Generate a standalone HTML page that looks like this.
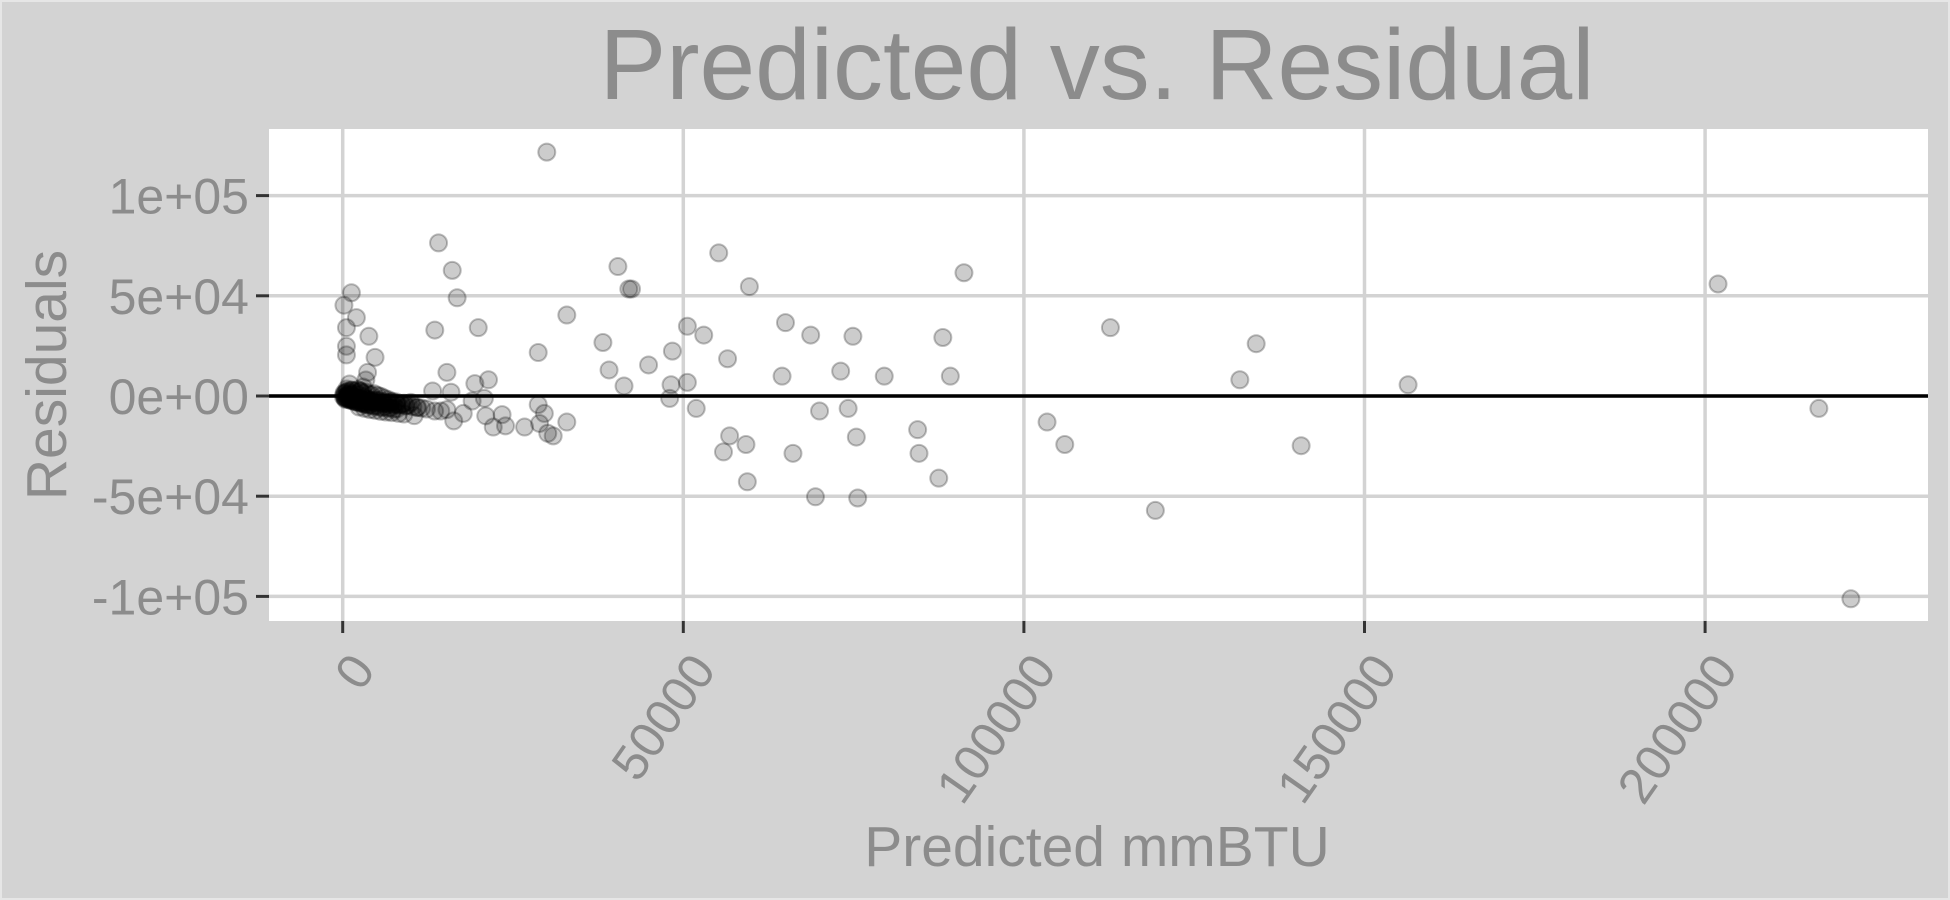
<!DOCTYPE html>
<html><head><meta charset="utf-8"><style>
html,body{margin:0;padding:0;background:#d3d3d3;}
svg{display:block;font-family:"Liberation Sans",sans-serif;}
</style></head><body>
<svg id="chart" width="1950" height="900" viewBox="0 0 1950 900" xmlns="http://www.w3.org/2000/svg">
<rect x="0" y="0" width="1950" height="900" fill="#d3d3d3"/>
<rect x="1" y="1" width="1948" height="898" fill="none" stroke="#e6e6e6" stroke-width="2"/>
<text x="1097" y="99" text-anchor="middle" font-size="100" fill="#8c8c8c">Predicted vs. Residual</text>
<rect x="269" y="129" width="1659" height="492" fill="#ffffff"/>
<g id="grid"></g>
<g id="zero"></g>
<g id="points"></g>
<g id="axes"></g>
<text transform="translate(66,375) rotate(-90)" text-anchor="middle" font-size="57" fill="#8c8c8c">Residuals</text>
<text x="1097" y="866" text-anchor="middle" font-size="57" fill="#8c8c8c">Predicted mmBTU</text>
</svg>
<script>
const xTicks=[0,50000,100000,150000,200000];
const xTickLabels=["0","50000","100000","150000","200000"];
const yTicks=[100000,50000,0,-50000,-100000];
const yTickLabels=["1e+05","5e+04","0e+00","-5e+04","-1e+05"];
const predicted=[29960,14070,16080,16800,13520,19900,1280,180,2010,550,3840,550,550,4750,28700,32900,40400,42000,42400,38200,39100,41300,44900,48400,48200,48000,50600,50600,53000,55200,56500,51900,59700,65000,64500,68700,74900,73100,79500,88100,89200,91200,56800,55900,59200,59400,66100,70000,74200,75400,75600,69400,84400,84600,87500,103400,106000,112700,119300,131700,134100,140700,156400,201900,216700,221400,
28700,29600,30100,30900,32900,28900,26700,23900,23400,22100,21000,20800,21400,19400,19000,17700,16300,15300,15900,15300,13200,14400,13500,3650,3400,3000,2600,
200,300,400,500,600,700,800,900,1000,1100,1200,1300,1500,1600,1700,1900,2000,2200,2300,2500,2600,2800,3000,3100,3300,3500,3700,3900,4100,4300,4600,4800,5000,5300,5600,5900,6200,6500,6800,7100,7500,7900,8300,8700,9200,9700,10300,10900,11600,12300,400,800,1400,2100,2900,3600,4400,5200,6100,7000,8000,9000,10000,11000,600,1000,1800,
100,300,500,700,900,1100,1300,1500,1700,1900,2100,2300,2500,2700,2900,3100,3300,3500,3800,4100,4400,4700,5000,5400,5800,6200,6600,7000,7500,8000,200,600,1000,1400,1800,2200,2600,3000,3400,3800,4200,4600,5100,5600,6100,6700,7300,7900,8600,9400,2400,3200,4000,4800,5600,6400,7200,8200,9000,10500];
const residuals=[121700,76400,62700,49000,32900,34100,51500,45300,39100,34100,29800,24800,20500,19300,21700,40400,64600,53400,53400,26700,13000,5000,15500,22400,5600,-1200,6800,34800,30400,71400,18600,-6200,54600,36600,9900,30400,29800,12400,9900,29200,9900,61500,-19900,-27900,-24200,-42800,-28600,-7500,-6200,-20500,-50900,-50300,-16800,-28600,-41000,-13000,-24200,34100,-57100,8100,26100,-24800,5600,55900,-6200,-101200,
-4300,-8700,-18600,-19900,-13000,-13700,-15500,-14900,-9300,-15500,-9900,-1200,8100,6200,-2500,-8700,-12400,-6800,1900,11800,2500,-7500,-7500,11800,8000,4500,2500,
800,-300,1500,-600,200,-900,2500,400,-1100,900,-1300,3000,-700,-1500,1200,-1000,-1700,600,-2000,-1200,2000,-1800,-2200,-600,-2400,-1500,-2600,-1900,-2800,-2300,-3000,-2100,-3300,-2600,-3500,-2900,-3800,-3100,-4100,-3500,-4300,-3900,-4600,-4200,-5000,-4500,-5300,-5800,-6000,-6500,-1700,1000,-2000,-600,-3000,-1400,-3400,-2000,-3900,-2800,-4400,-3600,-3200,-5600,3500,6000,-900,
-400,-1000,-1400,-1200,-1800,-2000,-2300,-2100,-2700,-2900,-3100,-2800,-3400,-3600,-3300,-3900,-4200,-4000,-4600,-4300,-4900,-5200,-4700,-5500,-5800,-5300,-6100,-5900,-6600,-6400,1500,2200,1800,2800,2400,3200,2600,1400,2000,1000,600,1200,400,-200,-1000,-1800,-2600,-3000,-4000,-4800,-5500,-6200,-6800,-7200,-7700,-8000,-8300,-8700,-9000,-9800];

const X0=342.7, XS=340.6/50000, Y0=396, YS=100.2/50000;
const sx=v=>X0+v*XS, sy=v=>Y0-v*YS;
const NS="http://www.w3.org/2000/svg";
function mk(tag,attrs,parent){const e=document.createElementNS(NS,tag);for(const k in attrs)e.setAttribute(k,attrs[k]);parent.appendChild(e);return e;}
const grid=document.getElementById('grid'),axes=document.getElementById('axes'),pts=document.getElementById('points'),zero=document.getElementById('zero');
xTicks.forEach((t,i)=>{
  const g=mk('line',{x1:sx(t),x2:sx(t),y1:129,y2:621,stroke:'#d3d3d3','stroke-width':3.5},grid);
  
  
  const tk=mk('line',{x1:sx(t),x2:sx(t),y1:621,y2:633,stroke:'#333','stroke-width':3},axes);
  
  
  const tx=sx(t)+34, ty=670;
  const lb=mk('text',{x:tx,y:ty,'text-anchor':'end','font-size':50,fill:'#8c8c8c',transform:`rotate(-55 ${tx} ${ty})`},axes);
  lb.textContent=xTickLabels[i];
  
  
});
yTicks.forEach((t,i)=>{
  const g=mk('line',{x1:269,x2:1928,y1:sy(t),y2:sy(t),stroke:'#d3d3d3','stroke-width':3.5},grid);
  
  
  const tk=mk('line',{x1:256,x2:269,y1:sy(t),y2:sy(t),stroke:'#333','stroke-width':3},axes);
  
  
  const lb=mk('text',{x:249,y:sy(t)+18,'text-anchor':'end','font-size':50,fill:'#8c8c8c'},axes);
  lb.textContent=yTickLabels[i];
  
  
});
const zl=mk('line',{x1:269,x2:1928,y1:sy(0),y2:sy(0),stroke:'#000','stroke-width':3.5},zero);


predicted.forEach((p,i)=>{
  const c=mk('circle',{cx:sx(p),cy:sy(residuals[i]),r:8.5,fill:'rgba(0,0,0,0.2)',stroke:'rgba(0,0,0,0.25)','stroke-width':2},pts);
  
  
});
</script>
</body></html>
